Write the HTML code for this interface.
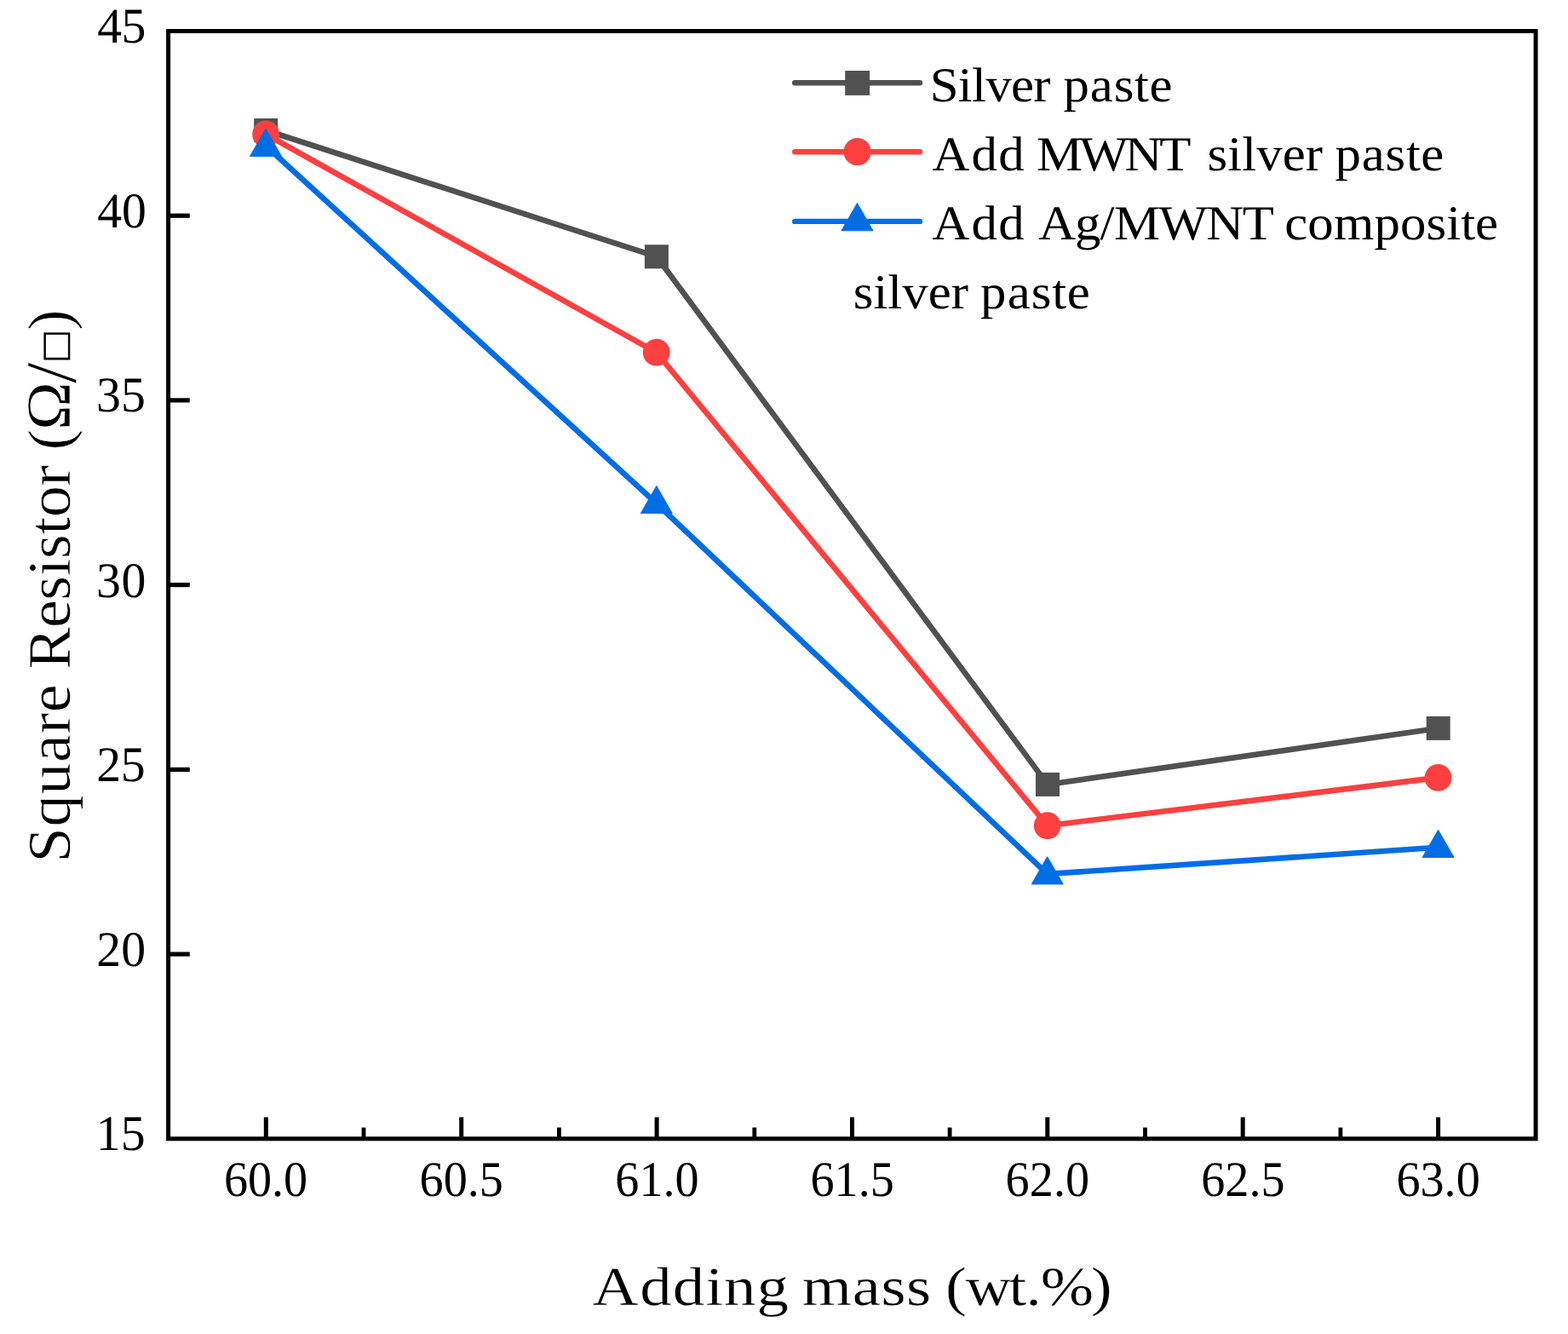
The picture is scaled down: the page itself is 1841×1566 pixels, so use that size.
<!DOCTYPE html>
<html lang="en"><head><meta charset="utf-8"><title>Square resistor vs adding mass</title>
<style>html,body{margin:0;padding:0;background:#fff}svg{display:block}text{font-family:"Liberation Serif",serif;fill:#000;font-kerning:none;font-variant-ligatures:none;text-rendering:geometricPrecision}</style></head><body>
<svg width="1841" height="1566" viewBox="0 0 1841 1566">
<rect x="0" y="0" width="1841" height="1566" fill="#fff"/>
<g id="series">
<polyline points="312.2,153.0 770.9,301.3 1230.0,920.9 1688.7,854.9" fill="none" stroke="#515151" stroke-width="6.6" stroke-linejoin="round" stroke-linecap="round"/>
<rect x="298.2" y="139.0" width="28.0" height="28.0" fill="#515151"/>
<rect x="756.9" y="287.3" width="28.0" height="28.0" fill="#515151"/>
<rect x="1216.0" y="906.9" width="28.0" height="28.0" fill="#515151"/>
<rect x="1674.7" y="840.9" width="28.0" height="28.0" fill="#515151"/>
<polyline points="312.1,157.5 770.7,413.7 1229.7,969.2 1688.5,912.9" fill="none" stroke="#fe4040" stroke-width="6.6" stroke-linejoin="round" stroke-linecap="round"/>
<circle cx="312.1" cy="157.5" r="15.9" fill="#fe4040"/>
<circle cx="770.7" cy="413.7" r="15.9" fill="#fe4040"/>
<circle cx="1229.7" cy="969.2" r="15.9" fill="#fe4040"/>
<circle cx="1688.5" cy="912.9" r="15.9" fill="#fe4040"/>
<polyline points="312.0,171.0 770.8,591.0 1229.7,1026.0 1688.6,994.8" fill="none" stroke="#016de4" stroke-width="6.6" stroke-linejoin="round" stroke-linecap="round"/>
<polygon points="312.0,151.2 330.5,183.4 293.5,183.4" fill="#016de4" stroke="#016de4" stroke-width="1" stroke-linejoin="round"/>
<polygon points="770.8,570.4 789.3,602.6 752.3,602.6" fill="#016de4" stroke="#016de4" stroke-width="1" stroke-linejoin="round"/>
<polygon points="1229.7,1005.7 1248.2,1037.9 1211.2,1037.9" fill="#016de4" stroke="#016de4" stroke-width="1" stroke-linejoin="round"/>
<polygon points="1688.6,974.3 1707.1,1006.5 1670.1,1006.5" fill="#016de4" stroke="#016de4" stroke-width="1" stroke-linejoin="round"/>
</g>
<g id="axes">
<rect x="197.6" y="36.5" width="1605.5" height="1300.3" fill="none" stroke="#000" stroke-width="5"/>
<rect x="197.6" y="250.6" width="25.2" height="5.2" fill="#000"/>
<rect x="197.6" y="467.3" width="25.2" height="5.2" fill="#000"/>
<rect x="197.6" y="684.0" width="25.2" height="5.2" fill="#000"/>
<rect x="197.6" y="900.8" width="25.2" height="5.2" fill="#000"/>
<rect x="197.6" y="1117.5" width="25.2" height="5.2" fill="#000"/>
<rect x="309.8" y="1311.5" width="5" height="25.3" fill="#000"/>
<rect x="539.2" y="1311.5" width="5" height="25.3" fill="#000"/>
<rect x="768.6" y="1311.5" width="5" height="25.3" fill="#000"/>
<rect x="998.0" y="1311.5" width="5" height="25.3" fill="#000"/>
<rect x="1227.3" y="1311.5" width="5" height="25.3" fill="#000"/>
<rect x="1456.7" y="1311.5" width="5" height="25.3" fill="#000"/>
<rect x="1686.1" y="1311.5" width="5" height="25.3" fill="#000"/>
<rect x="424.6" y="1323.6" width="4.8" height="13.2" fill="#000"/>
<rect x="654.0" y="1323.6" width="4.8" height="13.2" fill="#000"/>
<rect x="883.4" y="1323.6" width="4.8" height="13.2" fill="#000"/>
<rect x="1112.7" y="1323.6" width="4.8" height="13.2" fill="#000"/>
<rect x="1342.1" y="1323.6" width="4.8" height="13.2" fill="#000"/>
<rect x="1571.5" y="1323.6" width="4.8" height="13.2" fill="#000"/>
</g>
<g id="ticklabels">
<text transform="scale(0.9840,1.0000)" font-size="58.7"><tspan x="116.03 144.89" y="50.00">45</tspan></text>
<text transform="scale(0.9840,1.0000)" font-size="58.7"><tspan x="116.03 145.24" y="266.90">40</tspan></text>
<text transform="scale(0.9840,1.0000)" font-size="58.7"><tspan x="114.77 144.28" y="483.00">35</tspan></text>
<text transform="scale(0.9840,1.0000)" font-size="58.7"><tspan x="114.77 144.84" y="700.60">30</tspan></text>
<text transform="scale(0.9840,1.0000)" font-size="58.7"><tspan x="115.00 144.08" y="917.00">25</tspan></text>
<text transform="scale(0.9840,1.0000)" font-size="58.7"><tspan x="115.00 144.63" y="1133.50">20</tspan></text>
<text transform="scale(0.9840,1.0000)" font-size="58.7"><tspan x="114.66 144.08" y="1350.30">15</tspan></text>
<text transform="scale(0.9580,1.0000)" font-size="58.7"><tspan x="274.51 303.76 333.00 347.62" y="1404.20">60.0</tspan></text>
<text transform="scale(0.9580,1.0000)" font-size="58.7"><tspan x="514.07 543.47 572.86 587.56" y="1404.20">60.5</tspan></text>
<text transform="scale(0.9580,1.0000)" font-size="58.7"><tspan x="753.95 783.32 812.69 827.37" y="1404.20">61.0</tspan></text>
<text transform="scale(0.9580,1.0000)" font-size="58.7"><tspan x="993.30 1022.57 1051.84 1066.47" y="1404.20">61.5</tspan></text>
<text transform="scale(0.9580,1.0000)" font-size="58.7"><tspan x="1232.34 1261.75 1291.17 1305.87" y="1404.20">62.0</tspan></text>
<text transform="scale(0.9580,1.0000)" font-size="58.7"><tspan x="1472.01 1501.36 1530.71 1545.39" y="1404.20">62.5</tspan></text>
<text transform="scale(0.9580,1.0000)" font-size="58.7"><tspan x="1711.26 1740.58 1769.91 1784.58" y="1404.20">63.0</tspan></text>
</g>
<g id="legend">
<line x1="933.2" y1="97.3" x2="1080" y2="97.3" stroke="#515151" stroke-width="6.4" stroke-linecap="round"/>
<line x1="933.2" y1="178.2" x2="1080" y2="178.2" stroke="#fe4040" stroke-width="6.4" stroke-linecap="round"/>
<line x1="933.2" y1="259.9" x2="1080" y2="259.9" stroke="#016de4" stroke-width="6.4" stroke-linecap="round"/>
<rect x="992.2" y="83.0" width="28.9" height="28.9" fill="#515151"/>
<circle cx="1006.6" cy="178.2" r="16.1" fill="#fe4040"/>
<polygon points="1006.5,238.4 1025.0,270.8 988.0,270.8" fill="#016de4" stroke="#016de4" stroke-width="1" stroke-linejoin="round"/>
<text transform="scale(1.0400,0.9800)" font-size="58.5"><tspan x="1049.84 1081.43 1097.21 1112.99 1141.40 1166.61" y="121.43">Silver</tspan> <tspan x="1200.50 1230.64 1257.40 1280.85 1297.60" y="121.43">paste</tspan></text>
<text transform="scale(1.0400,0.9800)" font-size="58.5"><tspan x="1052.51 1096.66 1127.23" y="203.98">Add</tspan> <tspan x="1170.24 1218.52 1269.77 1308.99" y="203.98">MWNT</tspan> <tspan x="1362.99 1385.82 1402.13 1418.43 1447.77 1473.82" y="203.98">silver</tspan> <tspan x="1507.33 1537.38 1564.05 1587.44 1604.14" y="203.98">paste</tspan></text>
<text transform="scale(1.0400,0.9800)" font-size="58.5"><tspan x="1052.51 1096.66 1127.23" y="286.94">Add</tspan> <tspan x="1172.41 1213.43 1241.83 1257.61 1308.11 1361.72 1402.74" y="286.94">Ag/MWNT</tspan> <tspan x="1450.27 1476.32 1505.67 1551.33 1580.68 1610.03 1632.87 1649.18 1665.49" y="286.94">composite</tspan> <tspan x="963.27 986.03 1002.28 1018.53 1047.77 1073.73" y="369.90">silver</tspan> <tspan x="1106.85 1137.17 1164.08 1187.68 1204.52" y="369.90">paste</tspan></text>
</g>
<g id="titles">
<text transform="scale(1.1600,1.0000)" font-size="64.5" stroke="#fff" stroke-width="0.35"><tspan x="599.54 647.62 680.90 714.18 732.68 765.96" y="1531.60">Adding</tspan> <tspan x="811.84 862.77 891.83 917.32" y="1531.60">mass</tspan> <tspan x="956.91 977.19 1021.16 1038.08 1053.30 1104.03" y="1531.60">(wt.%)</tspan></text>
<text transform="rotate(-90) scale(1.0350,1.0000)" font-size="71.5" stroke="#fff" stroke-width="0.6"><tspan x="-978.31 -937.71 -901.21 -864.71 -832.31 -808.00" y="81.80">Square</tspan> <tspan x="-759.16 -712.12 -680.82 -653.38 -633.79 -606.34 -586.75 -551.49" y="81.80">Resistor</tspan> <tspan x="-510.54" y="81.80">(</tspan><tspan x="-487.88" y="82.00" font-size="74">Ω</tspan><tspan x="-434.80" y="89.20" font-size="85">/</tspan><tspan x="-408.00" y="81.80" font-size="50.5" stroke="#000" stroke-width="0.6">□</tspan><tspan x="-374.77" y="81.80">)</tspan></text>
</g>
</svg></body></html>
